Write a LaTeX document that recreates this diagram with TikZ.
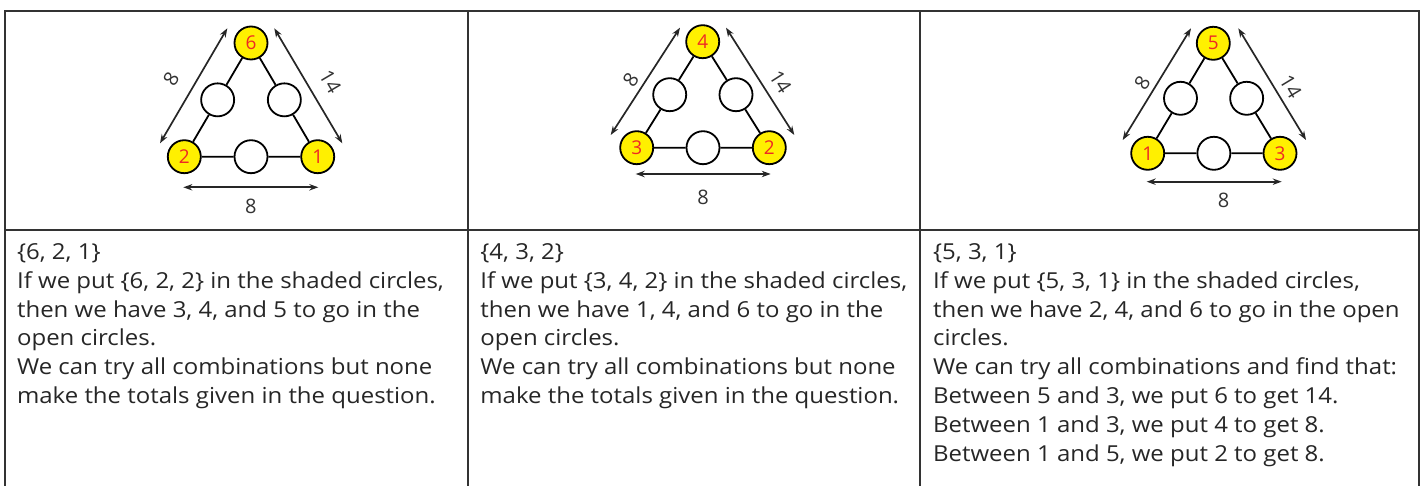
\documentclass[tikz,border=0pt]{standalone}
\usepackage{fontspec}
\setmainfont{Open Sans}
\newfontfamily\notefont[FakeStretch=1.09]{Open Sans}
\usepackage{xcolor}
\usepackage{tikz}
\usetikzlibrary{
  arrows.meta,
  calc
}
\definecolor{trLine}{HTML}{333333}
\definecolor{trText}{HTML}{262626}
\definecolor{trShade}{HTML}{FFF000}
\definecolor{trNum}{HTML}{EE2A24}
\tikzset{
  rim/.style={draw=trLine, line width=1pt},
  spot/.style={circle, draw=black, line width=0.9pt, minimum size=16.5pt, inner sep=0pt},
  given/.style={spot, fill=trShade, text=trNum, font=\fontsize{9.5}{11}\selectfont},
  blank/.style={spot, fill=white},
  link/.style={draw=black, line width=0.9pt},
  dimline/.style={{Stealth[length=4.5pt,width=3.2pt]}-{Stealth[length=4.5pt,width=3.2pt]}, draw=trText, line width=0.85pt},
  dimtag/.style={font=\fontsize{10}{12}\selectfont, text=trLine, inner sep=0pt},
  notes/.style={anchor=base west, align=left, inner sep=0pt, text=trText, font=\notefont\fontsize{11}{14.4}\selectfont}
}

\begin{document}
\begin{tikzpicture}[x=0.5pt, y=0.5pt]
  \useasboundingbox (0,0) rectangle (1424,-486);
  % table
  \draw[rim] (5,-486) -- (5,-11) -- (1419,-11) -- (1419,-486);
  \draw[rim] (468,-11) -- (468,-486);
  \draw[rim] (920,-11) -- (920,-486);
  \draw[rim] (5,-230) -- (1419,-230);

  % first triangle
  \node[given] (t1) at (251,-43) {6};
  \node[given] (l1) at (184.3,-156.7) {2};
  \node[given] (r1) at (317.7,-156.7) {1};
  \node[blank] (ml1) at ($(t1)!0.5!(l1)$) {};
  \node[blank] (mr1) at ($(t1)!0.5!(r1)$) {};
  \node[blank] (mb1) at ($(l1)!0.5!(r1)$) {};
  \draw[link] (t1) -- (ml1) (ml1) -- (l1) (l1) -- (mb1) (mb1) -- (r1) (r1) -- (mr1) (mr1) -- (t1);
  \coordinate (la1) at (160,-143.3);
  \coordinate (lb1) at (227.3,-28.3);
  \coordinate (ra1) at (274.3,-28.3);
  \coordinate (rb1) at (342.3,-143.3);
  \coordinate (ba1) at (183.3,-187.3);
  \coordinate (bb1) at (318.3,-187.3);
  \draw[dimline] (la1) -- node[dimtag, pos=0.46, sloped, above=7.4pt] {8} (lb1);
  \draw[dimline] (ra1) -- node[dimtag, pos=0.56, sloped, above=6.4pt] {14} (rb1);
  \draw[dimline] (ba1) -- node[dimtag, below=5.4pt] {8} (bb1);

  % second triangle
  \node[given] (t2) at (702.7,-41.7) {4};
  \node[given] (l2) at (636.7,-147.7) {3};
  \node[given] (r2) at (769.3,-147.7) {2};
  \node[blank] (ml2) at ($(t2)!0.5!(l2)$) {};
  \node[blank] (mr2) at ($(t2)!0.5!(r2)$) {};
  \node[blank] (mb2) at ($(l2)!0.5!(r2)$) {};
  \draw[link] (t2) -- (ml2) (ml2) -- (l2) (l2) -- (mb2) (mb2) -- (r2) (r2) -- (mr2) (mr2) -- (t2);
  \coordinate (la2) at (610.7,-135);
  \coordinate (lb2) at (680,-27.7);
  \coordinate (ra2) at (726,-27.7);
  \coordinate (rb2) at (794.3,-135);
  \coordinate (ba2) at (635.7,-174);
  \coordinate (bb2) at (770.7,-174);
  \draw[dimline] (la2) -- node[dimtag, pos=0.45, sloped, above=2.6pt] {8} (lb2);
  \draw[dimline] (ra2) -- node[dimtag, pos=0.59, sloped, above=4.4pt] {14} (rb2);
  \draw[dimline] (ba2) -- node[dimtag, below=7.7pt] {8} (bb2);

  % third triangle
  \node[given] (t3) at (1213.3,-43.3) {5};
  \node[given] (l3) at (1147.7,-153.3) {1};
  \node[given] (r3) at (1280,-153.3) {3};
  \node[blank] (ml3) at ($(t3)!0.5!(l3)$) {};
  \node[blank] (mr3) at ($(t3)!0.5!(r3)$) {};
  \node[blank] (mb3) at ($(l3)!0.5!(r3)$) {};
  \draw[link] (t3) -- (ml3) (ml3) -- (l3) (l3) -- (mb3) (mb3) -- (r3) (r3) -- (mr3) (mr3) -- (t3);
  \coordinate (la3) at (1122.7,-140);
  \coordinate (lb3) at (1191,-28.3);
  \coordinate (ra3) at (1238.3,-28.3);
  \coordinate (rb3) at (1306,-140);
  \coordinate (ba3) at (1146.7,-181.7);
  \coordinate (bb3) at (1281.7,-181.7);
  \draw[dimline] (la3) -- node[dimtag, pos=0.45, sloped, above=2.5pt] {8} (lb3);
  \draw[dimline] (ra3) -- node[dimtag, pos=0.59, sloped, above=3.3pt] {14} (rb3);
  \draw[dimline] (ba3) -- node[dimtag, pos=0.57, below=5.3pt] {8} (bb3);

  % working (anchored at the baseline of the last line)
  \node[notes] (n1) at (16.7,-403.5) {\{6, 2, 1\}\\
    If we put \{6, 2, 2\} in the shaded circles,\\
    then we have 3, 4, and 5 to go in the\\
    open circles.\\
    We can try all combinations but none\\
    make the totals given in the question.};
  \node[notes] (n2) at (480,-403.5) {\{4, 3, 2\}\\
    If we put \{3, 4, 2\} in the shaded circles,\\
    then we have 1, 4, and 6 to go in the\\
    open circles.\\
    We can try all combinations but none\\
    make the totals given in the question.};
  \node[notes] (n3) at (932.7,-461) {\{5, 3, 1\}\\
    If we put \{5, 3, 1\} in the shaded circles,\\
    then we have 2, 4, and 6 to go in the open\\
    circles.\\
    We can try all combinations and find that:\\
    Between 5 and 3, we put 6 to get 14.\\
    Between 1 and 3, we put 4 to get 8.\\
    Between 1 and 5, we put 2 to get 8.};
\end{tikzpicture}
\end{document}
